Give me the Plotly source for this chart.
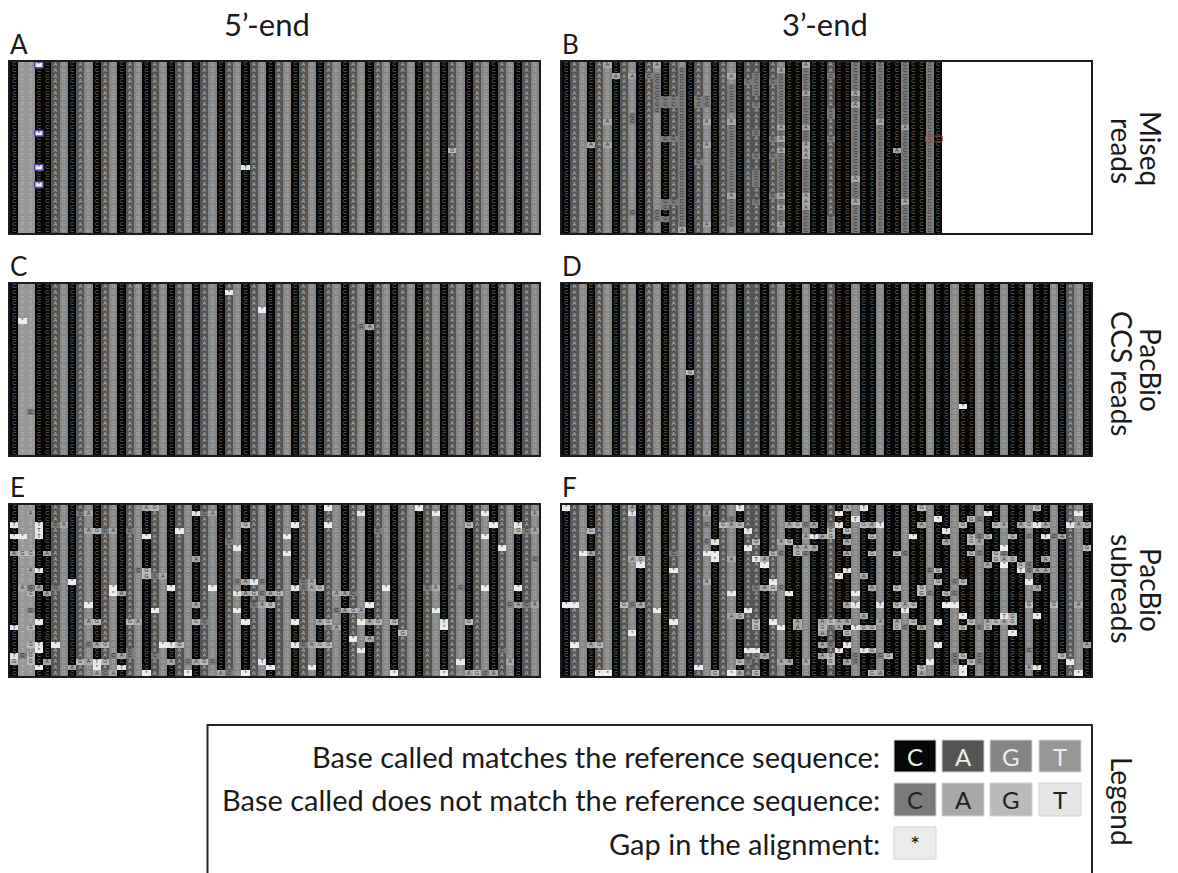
import plotly.graph_objects as go

W, H = 1178, 873
N_ROWS = 30
N_COLS = 64

# reference sequences
SEQ_5 = "CTTCC" + "AGC" * 19 + "AG"
SEQ_3 = "CAG" * 7 + "CAACAG" + "CCGCCA" + "CCG" * 9 + "CAGC"
SEQ_3_SHORT = SEQ_3[:46]

# mismatching calls, per panel: row -> "col+base ..."
A_EDITS = {0: "3*", 12: "3*", 18: "3* 28T", 21: "3*", 15: "53G"}
A_GAPS_FRAMED = [(0, 3), (12, 3), (18, 3), (21, 3)]

B_EDITS = {
    0: "5A 11A 29A", 1: "26A", 2: "6A 8A 20A", 5: "29A 35A", 7: "35A",
    10: "5A 17A 20A 38A", 11: "26A 29A 41A", 13: "26A", 14: "3A 5A 17A 29A",
    15: "26A 29A 40A", 16: "29A", 20: "35A", 23: "20A 26A 29A", 24: "29A 35A 41A",
    25: "26A 29A", 28: "17A 26A", 29: "14A",
}
# runs of C calls in G/A columns of panel B: (column, first row, last row)
B_C_RUNS = [
    (14, 1, 28), (13, 6, 7), (13, 13, 13), (13, 24, 24), (12, 6, 7), (12, 13, 13),
    (12, 24, 25), (12, 27, 27), (11, 2, 8), (11, 26, 27), (10, 2, 2), (17, 6, 7),
    (16, 6, 7), (16, 17, 17), (20, 4, 8), (20, 11, 28), (23, 2, 5), (23, 7, 7),
    (23, 12, 12), (23, 16, 16), (23, 19, 21), (23, 24, 24), (22, 3, 3), (26, 2, 28),
    (25, 3, 3), (25, 13, 13), (25, 16, 16), (25, 23, 23), (29, 1, 29), (32, 2, 2),
    (32, 8, 9), (32, 13, 13), (32, 27, 29), (35, 0, 29), (38, 0, 29), (41, 0, 29),
    (44, 0, 29), (8, 9, 10), (8, 26, 26),
]
B_RED_BOX = (13, 44, 45)

C_EDITS = {1: "26*", 4: "30*", 6: "1*", 7: "42C 43A", 22: "2C"}
D_EDITS = {15: "15G", 21: "48*"}

E_EDITS = {
    0: "16A 17G 38* 49*", 1: "2A 8C 9A 22T 23C 24A 42* 51* 57* 63A",
    3: "0T 3T 5C 6A 28G 34* 38* 55G 58* 61T", 4: "3T 9A 10G 11C 12A 14C 20* 44C 61G 62C 63A",
    5: "0* 1* 3T 16* 33* 57*", 6: "26C", 7: "27* 59*", 8: "0A 1G 2G 4A 33*",
    9: "22A 63C", 11: "2A 3T 15C 16G", 12: "16G 17C 18A",
    13: "7* 27C 28A 29T 30C 35C 36A", 14: "1A 2C 3A 5C 12* 19* 24* 34T 35C 36A 37G 45* 50C 51A 54C 57* 61*",
    15: "2G 4A 12* 13A 27T 28A 29G 30C 31A 32G 39A 40A 41C", 17: "9* 22A 29C 30A 31G 43* 60C 61A 62C 63A",
    18: "2C 17* 27* 39C 40A 41G 42A 51*", 20: "3* 9A 10G 14G 15A 22G 23C 28* 34* 37A 38G 42* 43A 44G 46G 52T 55G",
    21: "0T 2G 38C 39A 52*", 22: "47G", 23: "41* 43A", 24: "2G 3T 5* 9C 10A 11G 18* 19T 20G 34T 35C 36A 37G 38G",
    25: "3* 14C 42* 59C", 26: "0T 1C 2G 12C 13A 14C 17C", 27: "0G 2G 4A 8G 9A 10T 11G 19A 21C 22A 23G 24C 30T 54* 60A",
    28: "3* 7A 10* 13T 31* 36*", 29: "10A 11C 12A 16* 21* 25A 26C 28* 46* 52* 55A 56G 57C 58A",
}

F_EDITS = {
    0: "0* 8A 21T 34A 36T 43G 57G", 1: "8T 17A 33* 51* 62*", 2: "20C 35T 45* 49G 50C",
    3: "17C 19G 20A 21G 27A 28G 29C 30A 32C 33T 36G 37A 38T 43A 48G 52G 53A 55A 56G 57T 58A 61T 62A 63G",
    4: "3G 22T 32G 34G 46T", 5: "29A 30T 31A 32G 37G 42* 49G 50C 51G 54G 56C 58T 59C 60A",
    6: "17C 18T 23G 26A 27G 34A 46A 49G 50A", 7: "22* 28A 29A 30A 53* 63G",
    8: "2* 3A 13C 17* 18* 25G 26C 28G 29C 34A 37G 40G 41C 49G 50C 52G 53C",
    9: "8A 9G 18* 20A 23T 24A 52G 53A 54G 58A", 10: "9* 24* 51A 53* 55G 56C",
    11: "13* 34T 44C 45G 55T 56C 57A 58A", 12: "33* 36A", 13: "17A 25* 45G 47C 48G 56*",
    14: "23C 24A 25G 26C 37A 40G 43G 57A", 15: "20* 27* 35* 43G 44C 46G 47C",
    17: "0* 1* 7G 8C 9A 34A 35T 38T 40G 41A 42G 46* 47* 56G 59G 62A", 18: "11* 22* 41T",
    19: "20A 21G 36A 48* 53T 54G 57*", 20: "13* 23G 25* 28A 31A 32G 33A 34A 38A 40A 42G 45* 49G 51A 52G 53A 54G",
    21: "23G 26* 28A 31G 32C 33A 35T 36G 37G 40G 41C 43A 48G 50C 51G", 22: "8* 31A 34G 54*",
    24: "1* 3A 4G 31A 32C 34T 45* 63A", 25: "22* 23* 33T 36T 37G 56C",
    26: "23C 24A 31A 32G 35C 38C 39G 47C 48G 50C 60G", 27: "21G 22C 26A 27A 29A 32G 34A 35C 44* 47C 49G 50C 61*",
    28: "16* 43G 48* 56A 57T", 29: "4* 5* 18G 20* 21A 23G 37G 38A 43A 48* 62*",
}

SWATCH_MATCH = ["C", "A", "G", "T"]
SWATCH_MISMATCH = ["C", "A", "G", "T"]
SWATCH_GAP = ["*"]
LEGEND_ROWS = ["Base called matches the reference sequence:",
               "Base called does not match the reference sequence:",
               "Gap in the alignment:"]

# colours: matched bases, then mismatched bases and gap
MATCH_COL = {"C": "#050505", "A": "#555555", "G": "#858585", "T": "#969696"}
MISS_COL = {"C": "#7a7a7a", "A": "#a8a8a8", "G": "#bababa", "T": "#e6e6e6", "*": "#ececec"}
MATCH_TXT = {"C": "#7a7a7a", "A": "#c4c4c4", "G": "#b4b4b4", "T": "#bcbcbc"}
MISS_TXT = "#303030"
ORDER = ["mC", "mA", "mG", "mT", "xC", "xA", "xG", "xT", "x*"]
CODE = {k: i for i, k in enumerate(ORDER)}
PALETTE = [MATCH_COL[k[1]] if k[0] == "m" else MISS_COL[k[1]] for k in ORDER]
n = len(ORDER)
SCALE = []
for i, c in enumerate(PALETTE):
    SCALE += [[i / n, c], [(i + 1) / n, c]]

FONT = "Lato"
CELL_FONT = "Liberation Sans"


def px(x):
    return x / W


def py(y):
    return 1 - y / H


def build_grid(seq, edits, runs=()):
    bases = [list(seq) + [None] * (N_COLS - len(seq)) for _ in range(N_ROWS)]
    flags = [[False] * N_COLS for _ in range(N_ROWS)]
    for col, r0, r1 in runs:
        for r in range(r0, r1 + 1):
            bases[r][col] = "C"
            flags[r][col] = True
    for row, text in edits.items():
        for tok in text.split():
            col, base = int(tok[:-1]), tok[-1]
            bases[row][col] = base
            flags[row][col] = True
    return bases, flags


PANELS = [
    ("A", SEQ_5, A_EDITS, (), 10, 62),
    ("B", SEQ_3_SHORT, B_EDITS, B_C_RUNS, 562, 62),
    ("C", SEQ_5, C_EDITS, (), 10, 284),
    ("D", SEQ_3, D_EDITS, (), 562, 284),
    ("E", SEQ_5, E_EDITS, (), 10, 505),
    ("F", SEQ_3, F_EDITS, (), 562, 505),
]
PANEL_W, PANEL_H = 529, 171

fig = go.Figure()
layout = dict(
    width=W, height=H, margin=dict(l=0, r=0, t=0, b=0, pad=0, autoexpand=False),
    paper_bgcolor="white", plot_bgcolor="white", showlegend=False, font=dict(family=FONT, color="#1a1a1a"),
)
annotations, shapes = [], []

for i, (name, seq, edits, runs, left, top) in enumerate(PANELS, start=1):
    bases, flags = build_grid(seq, edits, runs)
    z, xs, ys, txt, tcol = [], [], [], [], []
    for r in range(N_ROWS):
        line = []
        for c in range(N_COLS):
            b = bases[r][c]
            if b is None:
                line.append(None)
                continue
            line.append(CODE[("x" if flags[r][c] else "m") + b])
            xs.append(c)
            ys.append(r)
            txt.append(b)
            tcol.append(MISS_TXT if flags[r][c] else MATCH_TXT[b])
        z.append(line)
    xa, ya = f"x{i}", f"y{i}"
    fig.add_trace(go.Heatmap(z=z, x=list(range(N_COLS)), y=list(range(N_ROWS)), xaxis=xa, yaxis=ya,
                             colorscale=SCALE, zmin=0, zmax=n, showscale=False, hoverinfo="skip"))
    fig.add_trace(go.Scatter(x=xs, y=ys, text=txt, mode="text", xaxis=xa, yaxis=ya, hoverinfo="skip",
                             textfont=dict(size=5.5, color=tcol, family=CELL_FONT)))
    ax_common = dict(showticklabels=False, ticks="", showgrid=False, zeroline=False,
                     showline=True, linecolor="#1c1c1c", linewidth=2, mirror=True, fixedrange=True)
    layout[f"xaxis{i}"] = dict(domain=[px(left), px(left + PANEL_W)], range=[-0.5, N_COLS - 0.5],
                               anchor=ya, **ax_common)
    layout[f"yaxis{i}"] = dict(domain=[py(top + PANEL_H), py(top)], range=[N_ROWS - 0.5, -0.5],
                               anchor=xa, **ax_common)
    annotations.append(dict(text=name, x=px(left - 2), y=py(top - 18), xref="paper", yref="paper",
                            xanchor="left", yanchor="middle", showarrow=False, font=dict(size=26)))

# framed gap calls in panel A, red selection box in panel B
for r, c in A_GAPS_FRAMED:
    shapes.append(dict(type="rect", xref="x1", yref="y1", x0=c - 0.5, x1=c + 0.5, y0=r - 0.5, y1=r + 0.5,
                       line=dict(color="#4a4aa8", width=1.5), fillcolor="rgba(0,0,0,0)"))
r, c0, c1 = B_RED_BOX
shapes.append(dict(type="rect", xref="x2", yref="y2", x0=c0 - 0.5, x1=c1 + 0.5, y0=r - 0.5, y1=r + 0.5,
                   line=dict(color="#a8483c", width=1), fillcolor="rgba(0,0,0,0)"))


def label(text, x, y, size, angle=0, xanchor="center"):
    annotations.append(dict(text=text, x=px(x), y=py(y), xref="paper", yref="paper", xanchor=xanchor,
                            yanchor="middle", showarrow=False, textangle=angle, font=dict(size=size)))


label("5’-end", 267, 24, 31)
label("3’-end", 825, 24, 31)
for text, x, y in [("Miseq", 1151, 148), ("reads", 1122, 151),
                   ("PacBio", 1151, 370), ("CCS reads", 1122, 374),
                   ("PacBio", 1151, 590), ("subreads", 1122, 589),
                   ("Legend", 1122, 801)]:
    label(text, x, y, 28, angle=90)

# legend frame: its lower edge lies beyond the bottom of the page
shapes.append(dict(type="path", xref="paper", yref="paper",
                   path=f"M {px(207.5)} 0 L {px(207.5)} {py(725)} L {px(1092)} {py(725)} L {px(1092)} 0",
                   line=dict(color="#262626", width=2)))
SWATCH_X = [894, 942, 990, 1039]
SWATCH_W = 42
ROWS_Y = [(740, 772), (783, 816), (827, 859)]
for (y0, y1), title, letters, kind in zip(ROWS_Y, LEGEND_ROWS, [SWATCH_MATCH, SWATCH_MISMATCH, SWATCH_GAP], ["m", "x", "x"]):
    label(title, 882, (y0 + y1) / 2, 29, xanchor="right")
    for x0, b in zip(SWATCH_X, letters):
        fill = PALETTE[CODE[kind + b]]
        shapes.append(dict(type="rect", xref="paper", yref="paper", x0=px(x0), x1=px(x0 + SWATCH_W),
                           y0=py(y1), y1=py(y0), fillcolor=fill, line=dict(color="#d4d4d4", width=1)))
        color = "#ececec" if kind == "m" else "#222222"
        annotations.append(dict(text=b, x=px(x0 + SWATCH_W / 2), y=py((y0 + y1) / 2), xref="paper", yref="paper",
                                xanchor="center", yanchor="middle",
                                showarrow=False, font=dict(size=24, color=color)))

layout["annotations"] = annotations
layout["shapes"] = shapes
fig.update_layout(**layout)
fig.write_html("out.html", config=dict(displayModeBar=False),
               post_script="document.body.style.margin='0';document.body.style.overflow='hidden';"
                           "document.querySelectorAll('.cartesianlayer .subplot .plot').forEach(function(e){e.style.filter='blur(0.45px)';});")
